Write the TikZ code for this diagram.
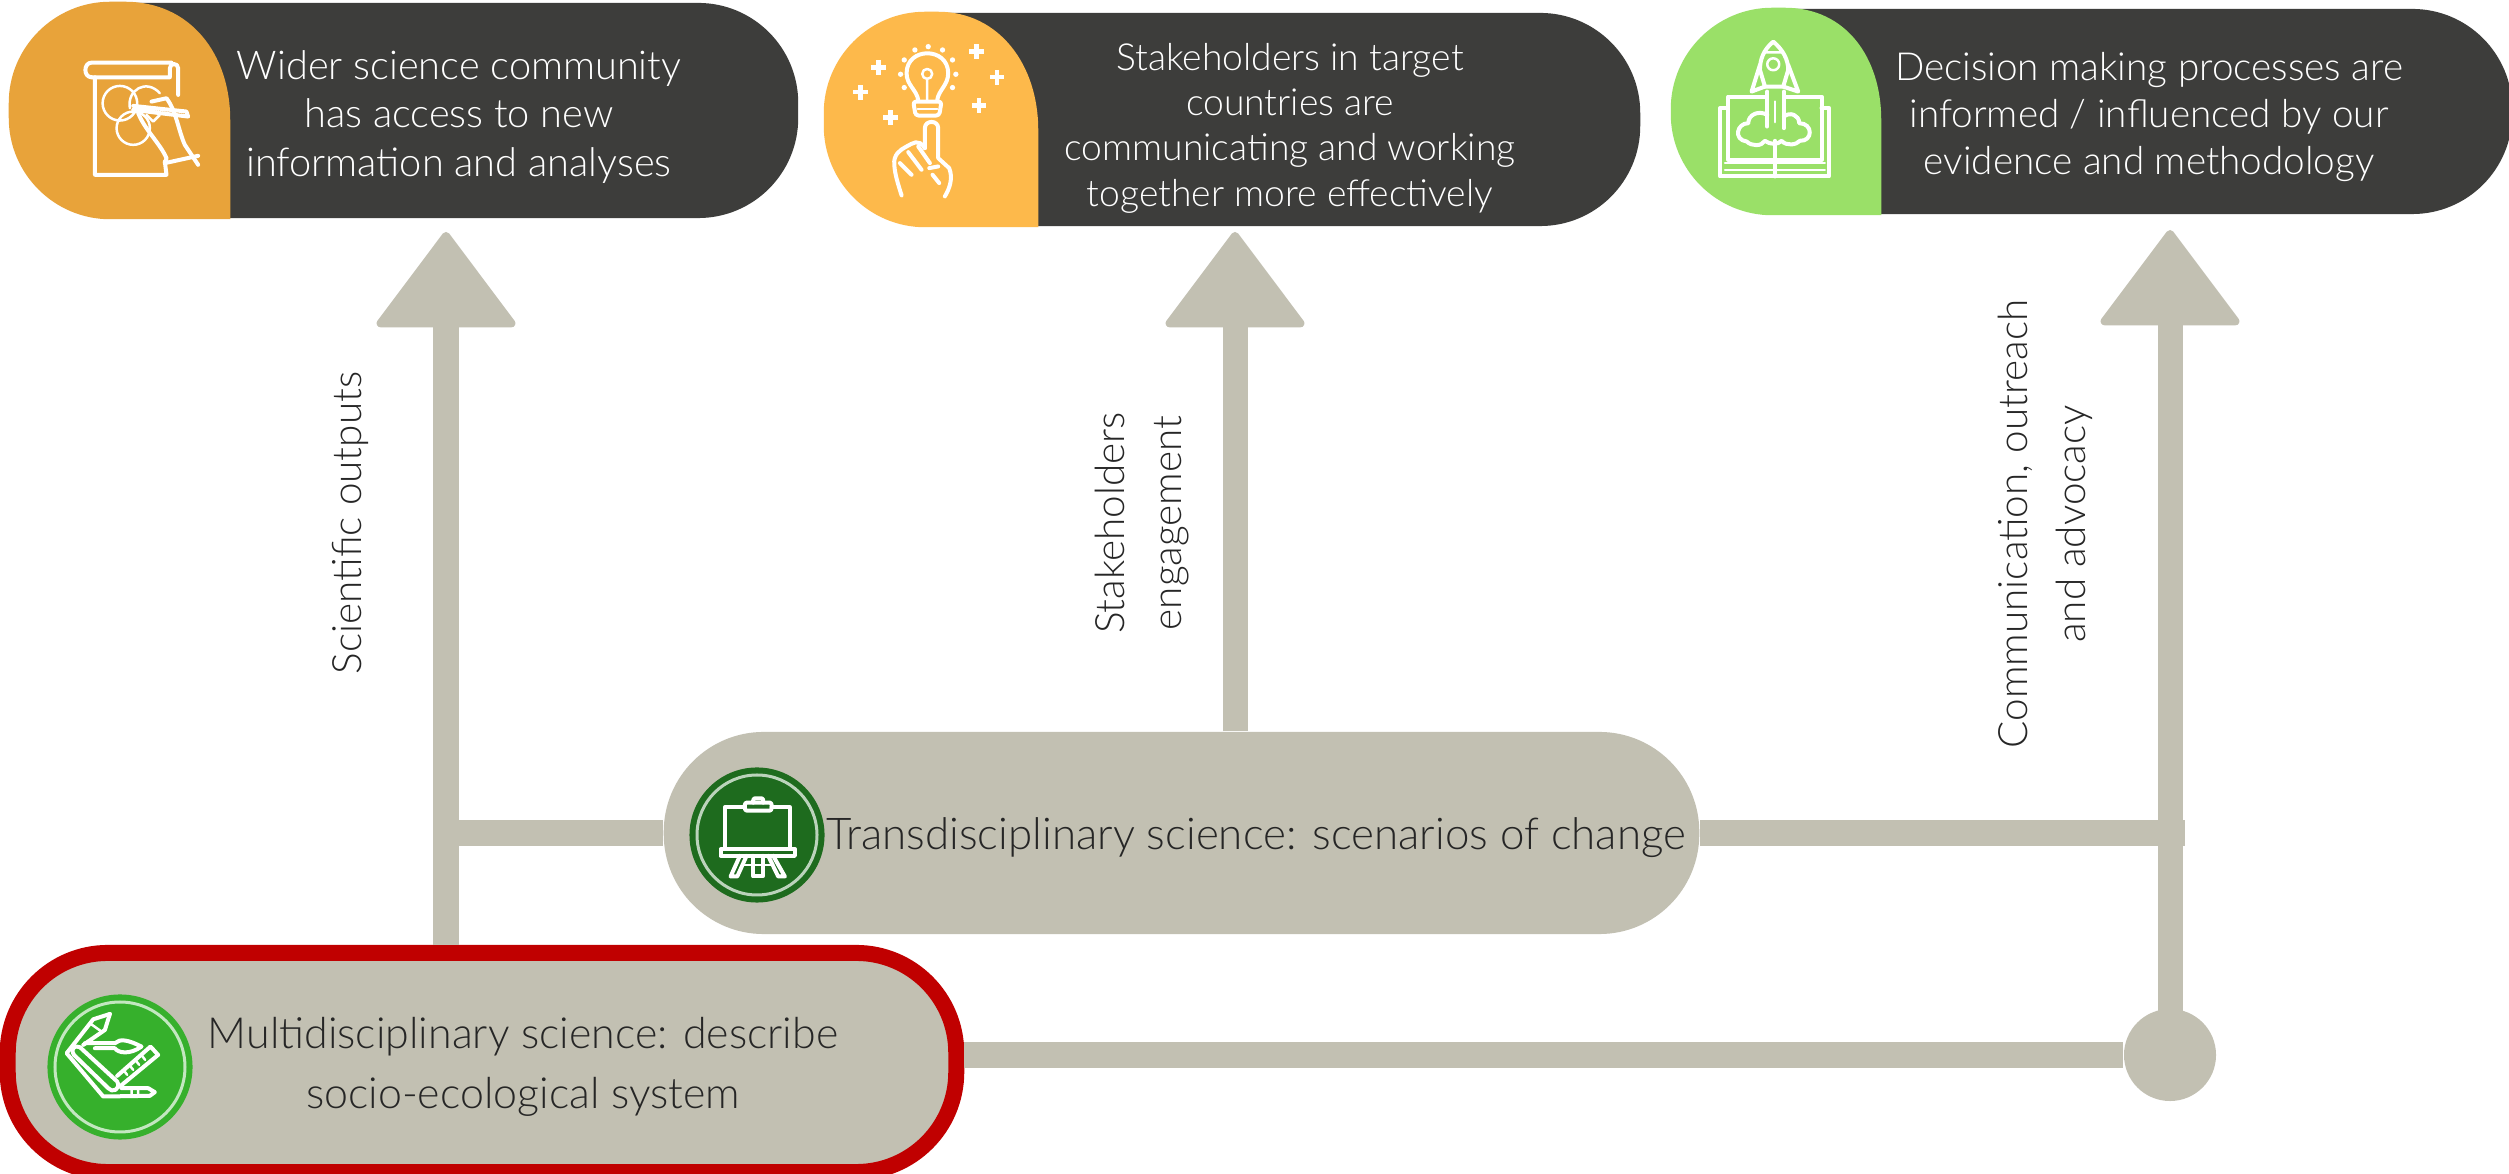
\documentclass[tikz,border=0pt]{standalone}
\usepackage{fontspec}
\setmainfont{Lato}[UprightFont=* Light]
\usetikzlibrary{arrows.meta}
\definecolor{pilldark}{HTML}{3D3D3B}
\definecolor{pilltan}{HTML}{C2C0B2}
\definecolor{capamber}{HTML}{E8A33A}
\definecolor{capyellow}{HTML}{FDB94B}
\definecolor{capgreen}{HTML}{9AE068}
\definecolor{disccolor}{HTML}{36B02C}
\definecolor{discdark}{HTML}{1E6B1E}
\definecolor{ringred}{HTML}{C00000}
\tikzset{
	pill/.style={rectangle,inner sep=0pt,rounded corners=1cm},
	outcome/.style={pill,fill=pilldark},
	science/.style={pill,fill=pilltan},
	whitetext/.style={text=white,align=center},
	blacktext/.style={text=black!85,align=center},
	sidelabel/.style={text=black!85,align=center,rotate=90,font=\fontsize{11.5}{16.4}\selectfont},
	flowline/.style={draw=pilltan,line width=.25cm},
	flowarrow/.style={flowline,-{Triangle[length=.98cm,width=1.45cm,line width=.08cm,round]}},
	iconline/.style={draw=white,line width=.04cm,line join=round,line cap=round},
	thinicon/.style={draw=white,line width=.025cm,line join=round,line cap=round},
	iconunits/.style={x=.003333cm,y=-.003333cm},
	capedge/.style={line width=.025cm},
}
\begin{document}
\begin{tikzpicture}[x=.01cm,y=-.01cm]
	\clip (0,0) rectangle (2509,1174);
	\fill[white] (0,0) rectangle (2509,1174);
	% outcomes
	\node[outcome,minimum width=7.88cm,minimum height=2.15cm] (wider) at (404,110.5) {};
	\filldraw[capamber,capedge] (229,218) -- (229,120) .. controls (229,55) and (190,3) .. (125,3) -- (110,3) .. controls (55,3) and (10,48) .. (10,103) -- (10,118) .. controls (10,173) and (55,218) .. (110,218) -- cycle;
	\node[outcome,minimum width=8.15cm,minimum height=2.13cm] (partners) at (1232.5,119.5) {};
	\filldraw[capyellow,capedge] (1037,226) -- (1037,130) .. controls (1037,65) and (998,13) .. (938,13) -- (925,13) .. controls (870,13) and (825,58) .. (825,113) -- (825,126) .. controls (825,181) and (870,226) .. (925,226) -- cycle;
	\node[outcome,minimum width=8.40cm,minimum height=2.05cm] (policy) at (2092,111.5) {};
	\filldraw[capgreen,capedge] (1880,214) -- (1880,120) .. controls (1880,58) and (1845,9) .. (1785,9) -- (1772,9) .. controls (1717,9) and (1672,54) .. (1672,109) -- (1672,114) .. controls (1672,169) and (1717,214) .. (1772,214) -- cycle;
	\node[whitetext,font=\fontsize{11.3}{13.9}\selectfont] (widertext) at (459,117) {Wider science community\\has access to new\\information and analyses};
	\node[whitetext,font=\fontsize{10.6}{12.9}\selectfont] (partnerstext) at (1290,128) {Stakeholders in target\\countries are\\communicating and working\\together more effectively};
	\node[whitetext,font=\fontsize{11}{13.4}\selectfont] (policytext) at (2149,117) {Decision making processes are\\informed / influenced by our\\evidence and methodology};
	% science
	\node[science,minimum width=10.35cm,minimum height=2.02cm] (trans) at (1181.5,833) {};
	\node[science,draw=ringred,line width=.16cm,minimum width=9.48cm,minimum height=2.19cm] (multi) at (482,1062.5) {};
	\node[blacktext,font=\fontsize{12.2}{17}\selectfont] (multitext) at (523,1067) {Multidisciplinary science: describe\\socio-ecological system};
	\node[blacktext,anchor=base,font=\fontsize{12.47}{17}\selectfont] (transtext) at (1256,850) {Transdisciplinary science: scenarios of change};
	\node[circle,fill=disccolor,inner sep=0pt,minimum size=1.45cm] (multidisc) at (120,1067) {};
	\draw[draw=white!70!disccolor,line width=.03cm] (multidisc) circle (65);
	\node[circle,fill=discdark,inner sep=0pt,minimum size=1.35cm] (transdisc) at (757,835) {};
	\draw[draw=white!70!discdark,line width=.03cm] (transdisc) circle (60);
	% connectors
	\coordinate (tipa) at (446,232);
	\coordinate (tipb) at (1235,232);
	\coordinate (tipc) at (2170,230);
	\coordinate (joinc) at (2185,833);
	\node[circle,fill=pilltan,inner sep=0pt,minimum size=.92cm] (hub) at (2170,1055) {};
	\draw[flowarrow] (tipa |- multi.north) -- (tipa);
	\draw[flowarrow] (tipb |- trans.north) -- (tipb);
	\draw[flowarrow] (hub.center) -- (tipc);
	\draw[flowline] (trans.west) -- (tipa |- trans.west);
	\draw[flowline] (trans.east) -- (joinc);
	\draw[flowline] (hub.west -| multi.east) -- (hub.west);
	\node[sidelabel] (scilabel) at (350,523) {Scientific outputs};
	\node[sidelabel] (stakelabel) at (1142,523) {Stakeholders\\engagement};
	\node[sidelabel] (commlabel) at (2045,524) {Communication, outreach\\and advocacy};
	% icon: drawing hand
	\begin{scope}[shift={(70,50)},iconunits]
		\draw[iconline] (75,82) -- (75,375) -- (290,375) -- (285,335);
		\draw[iconline] (65,82) -- (300,82) -- (300,55) .. controls (300,38) and (325,38) .. (325,55) -- (325,135);
		\draw[iconline] (65,82) .. controls (40,82) and (40,38) .. (65,38) -- (305,38);
		\draw[thinicon] (150,160) circle (52) (190,235) circle (50);
		\draw[thinicon] (180,175) .. controls (170,120) and (230,85) .. (270,130);
		\draw[iconline] (190,168) -- (350,185) -- (355,200) -- (190,180);
		\draw[iconline] (245,155) -- (290,145) .. controls (320,185) and (325,240) .. (345,285) -- (385,345);
		\draw[iconline] (285,340) -- (385,318);
		\draw[iconline] (205,190) .. controls (225,240) and (270,280) .. (290,325) -- (285,340);
		\draw[thinicon] (230,195) -- (250,215) -- (270,195);
	\end{scope}
	% icon: bulb and hand
	\begin{scope}[shift={(850,35)},iconunits]
		\draw[iconline] (205,195) .. controls (200,165) and (170,150) .. (170,115) .. controls (170,35) and (295,35) .. (295,115) .. controls (295,150) and (267,165) .. (262,195);
		\draw[thinicon] (232,117) circle (15) (232,132) -- (232,195);
		\draw[iconline,rounded corners=.03cm] (190,200) -- (275,200) -- (268,242) -- (197,242) -- cycle;
		\draw[thinicon] (203,222) -- (262,222);
		\foreach \px/\py in {235/35,195/45,278/45,163/75,308/75,152/118,318/118,163/158,308/158} {
			\fill[white] (\px,\py) circle (8);
		}
		\foreach \px/\py in {380/50,85/97,442/127,32/172,388/212,122/248} {
			\draw[draw=white,line width=.045cm] (\px-22,\py) -- (\px+22,\py) (\px,\py-22) -- (\px,\py+22);
		}
		\draw[iconline] (225,340) -- (225,280) .. controls (225,255) and (265,255) .. (265,280) -- (265,370) -- (298,400) .. controls (310,430) and (300,460) .. (285,485);
		\draw[iconline] (225,340) .. controls (205,310) and (190,325) .. (170,335) .. controls (150,345) and (130,360) .. (133,390) .. controls (135,420) and (145,450) .. (155,482);
		\draw[iconline] (150,385) -- (185,420) (175,352) -- (215,405) (205,335) -- (240,385);
		\draw[iconline] (238,400) -- (265,395) (248,420) -- (268,445);
	\end{scope}
	% icon: rocket on book
	\begin{scope}[shift={(1710,35)},iconunits]
		\draw[iconline] (190,20) .. controls (160,45) and (150,75) .. (150,105) -- (165,155) -- (220,155) -- (235,105) .. controls (235,75) and (220,45) .. (190,20) -- cycle;
		\draw[thinicon] (190,88) circle (18) (165,52) -- (215,52);
		\draw[iconline] (150,90) -- (125,170) -- (165,155) (235,90) -- (265,170) -- (220,155);
		\draw[iconline] (172,170) -- (172,275) (222,170) -- (222,280);
		\draw[thinicon] (195,200) -- (195,262);
		\draw[iconline] (165,185) -- (55,185) -- (55,375) -- (335,375) -- (335,185) -- (225,185);
		\draw[iconline] (50,220) -- (30,220) -- (30,425) -- (358,425) -- (358,220) -- (335,220);
		\draw[thinicon] (45,385) -- (345,385) (45,405) -- (345,405);
		\draw[iconline] (195,318) -- (195,425);
		\draw[iconline] (172,240) .. controls (145,225) and (115,240) .. (115,265) .. controls (80,265) and (70,315) .. (110,320) .. controls (125,335) and (155,335) .. (165,318) .. controls (180,330) and (205,330) .. (215,318) .. controls (230,335) and (260,330) .. (270,318) .. controls (310,320) and (310,265) .. (268,265) .. controls (268,240) and (240,230) .. (222,245);
	\end{scope}
	% icon: pencil ruler brush
	\begin{scope}[shift={(40,990)},iconunits]
		\draw[iconline] (210,72) -- (160,88) -- (80,190) -- (190,320) -- (330,318) -- (345,307) -- (325,295) -- (245,295);
		\draw[iconline] (210,72) -- (195,120) -- (130,165);
		\draw[thinicon] (150,100) -- (185,125) (275,295) -- (275,318) (295,295) -- (295,318);
		\draw[iconline] (120,172) -- (232,275) .. controls (245,300) and (215,310) .. (205,295) -- (102,195) .. controls (90,175) and (105,165) .. (120,172) -- cycle;
		\draw[iconline] (135,160) -- (225,160) .. controls (240,145) and (265,150) .. (305,170) .. controls (270,195) and (235,190) .. (225,175) -- (165,175);
		\draw[iconline] (232,258) -- (332,170) -- (355,195) -- (240,290);
		\draw[thinicon] (252,242) -- (262,255) (270,227) -- (280,240) (288,212) -- (298,225) (306,197) -- (316,210);
	\end{scope}
	% icon: easel
	\begin{scope}[shift={(690,770)},iconunits]
		\draw[iconline] (165,112) -- (105,112) -- (105,235) (300,235) -- (300,112) -- (245,112);
		\draw[iconline,rounded corners=.02cm] (165,98) rectangle (245,122);
		\draw[iconline,rounded corners=.02cm] (190,98) -- (190,85) -- (220,85) -- (220,98);
		\draw[iconline] (92,238) rectangle (315,258);
		\draw[iconline] (150,258) -- (122,320) -- (142,320) -- (170,258) (250,258) -- (285,320) -- (265,320) -- (235,258);
		\draw[thinicon] (160,285) -- (245,285);
		\draw[iconline] (190,258) -- (190,320) -- (218,320) -- (218,258);
	\end{scope}
\end{tikzpicture}
\end{document}
